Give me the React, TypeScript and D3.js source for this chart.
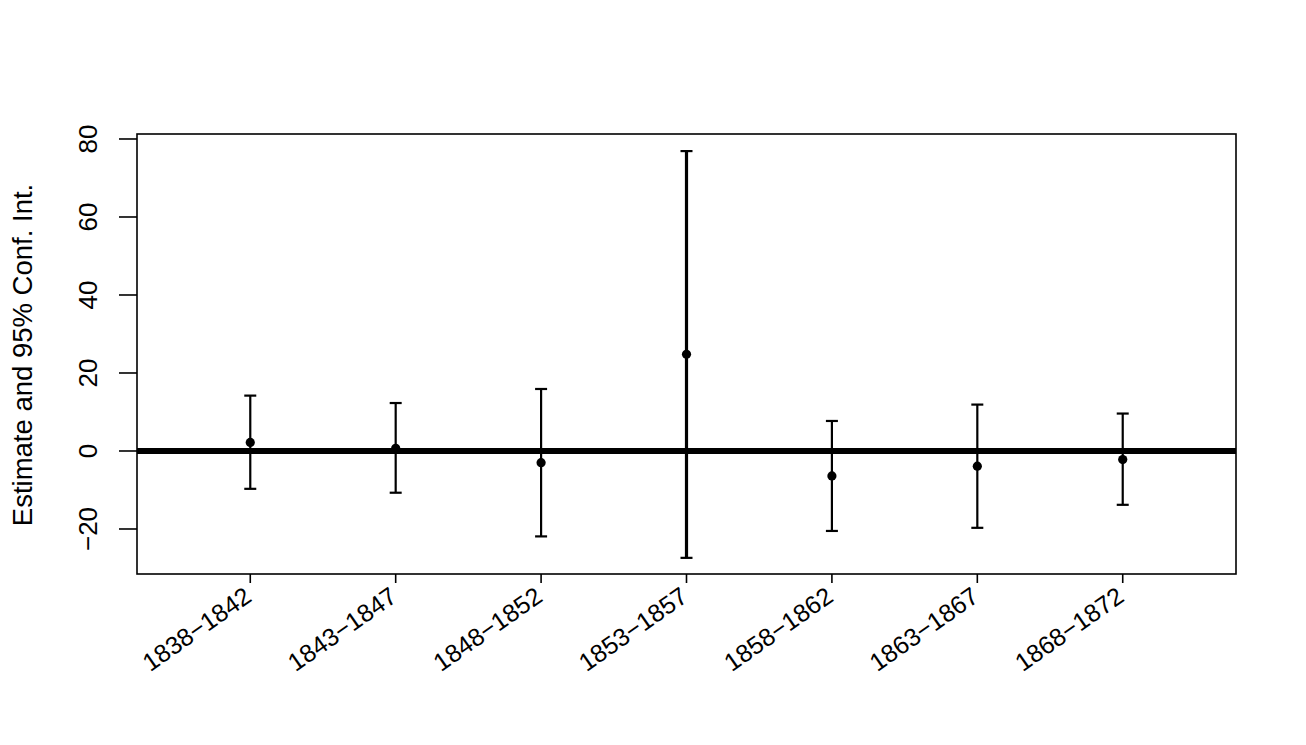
// Estimate and 95% CI plot by five-year period

import { useEffect, useRef } from "react";
import * as d3 from "d3";

const periods = [
  "1838–1842",
  "1843–1847",
  "1848–1852",
  "1853–1857",
  "1858–1862",
  "1863–1867",
  "1868–1872",
];
const estimates = [2.2, 0.7, -3.0, 24.8, -6.4, -3.9, -2.2];
const upperCI = [14.2, 12.3, 15.9, 76.9, 7.7, 11.9, 9.6];
const lowerCI = [-9.7, -10.7, -21.9, -27.4, -20.5, -19.7, -13.8];
const yTicks = [-20, 0, 20, 40, 60, 80];

const WIDTH = 1306;
const HEIGHT = 745;
const FONT = "'Liberation Sans', Arial, Helvetica, sans-serif";

export default function App() {
  const svgRef = useRef<SVGSVGElement>(null);

  useEffect(() => {
    if (!svgRef.current) return;
    const svg = d3.select(svgRef.current);
    svg.selectAll("*").remove();

    const left = 137;
    const right = 1236;
    const top = 134;
    const bottom = 574;

    const x = d3.scaleLinear().domain([0.221, 7.779]).range([left, right]);
    const y = d3.scaleLinear().domain([-31.54, 81.28]).range([bottom, top]);

    const idx = periods.map((_, i) => i);

    // zero reference line (thick)
    svg
      .append("line")
      .attr("x1", left)
      .attr("x2", right)
      .attr("y1", y(0))
      .attr("y2", y(0))
      .attr("stroke", "#000")
      .attr("stroke-width", 6);

    // error bars
    const bars = svg.append("g");
    bars
      .selectAll("line.bar")
      .data(idx)
      .join("line")
      .attr("class", "bar")
      .attr("x1", (i) => x(i + 1))
      .attr("x2", (i) => x(i + 1))
      .attr("y1", (i) => y(upperCI[i]))
      .attr("y2", (i) => y(lowerCI[i]))
      .attr("stroke", "#000")
      .attr("stroke-width", (i) => (i === 3 ? 3.2 : 2.2));

    const capHalf = 6;
    for (const vals of [upperCI, lowerCI]) {
      bars
        .append("g")
        .selectAll("line")
        .data(idx)
        .join("line")
        .attr("x1", (i) => x(i + 1) - capHalf)
        .attr("x2", (i) => x(i + 1) + capHalf)
        .attr("y1", (i) => y(vals[i]))
        .attr("y2", (i) => y(vals[i]))
        .attr("stroke", "#000")
        .attr("stroke-width", 2.2);
    }

    // point estimates
    svg
      .append("g")
      .selectAll("circle")
      .data(idx)
      .join("circle")
      .attr("cx", (i) => x(i + 1))
      .attr("cy", (i) => y(estimates[i]))
      .attr("r", 4.6)
      .attr("fill", "#000");

    // frame
    svg
      .append("rect")
      .attr("x", left)
      .attr("y", top)
      .attr("width", right - left)
      .attr("height", bottom - top)
      .attr("fill", "none")
      .attr("stroke", "#000")
      .attr("stroke-width", 1.6);

    // y axis
    const yAxis = svg.append("g");
    yAxis
      .selectAll("line")
      .data(yTicks)
      .join("line")
      .attr("x1", left - 18)
      .attr("x2", left)
      .attr("y1", (d) => y(d))
      .attr("y2", (d) => y(d))
      .attr("stroke", "#000")
      .attr("stroke-width", 1.6);
    yAxis
      .selectAll("text")
      .data(yTicks)
      .join("text")
      .attr("transform", (d) => `translate(97, ${y(d)}) rotate(-90)`)
      .attr("text-anchor", "middle")
      .style("font-family", FONT)
      .style("font-size", "26px")
      .text((d) => (d < 0 ? `\u2212${Math.abs(d)}` : `${d}`));

    svg
      .append("text")
      .attr("transform", `translate(32, ${(top + bottom) / 2 + 1}) rotate(-90)`)
      .attr("text-anchor", "middle")
      .style("font-family", FONT)
      .style("font-size", "27.5px")
      .text("Estimate and 95% Conf. Int.");

    // x axis
    const xAxis = svg.append("g");
    xAxis
      .selectAll("line")
      .data(idx)
      .join("line")
      .attr("x1", (i) => x(i + 1))
      .attr("x2", (i) => x(i + 1))
      .attr("y1", bottom)
      .attr("y2", bottom + 9)
      .attr("stroke", "#000")
      .attr("stroke-width", 1.6);
    xAxis
      .selectAll("text")
      .data(idx)
      .join("text")
      .attr("transform", (i) => `translate(${x(i + 1) + 3}, 600) rotate(-35)`)
      .attr("text-anchor", "end")
      .style("font-family", FONT)
      .style("font-size", "25px")
      .text((i) => periods[i].replace("–", "\u2212"));
  }, []);

  return (
    <svg
      ref={svgRef}
      width={WIDTH}
      height={HEIGHT}
      style={{ position: "absolute", left: 0, top: 0, background: "#fff" }}
    />
  );
}
